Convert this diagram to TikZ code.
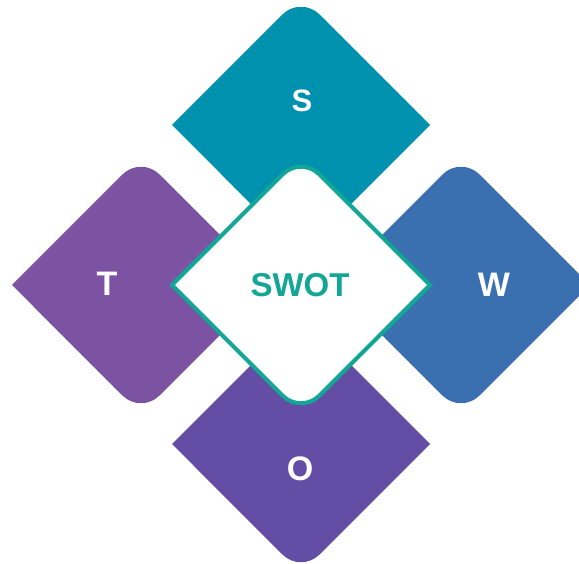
\documentclass[tikz,border=0pt]{standalone}
\usepackage{fontspec}
\setmainfont{Liberation Sans}
\definecolor{cS}{HTML}{0091AF}
\definecolor{cT}{HTML}{7C52A3}
\definecolor{cW}{HTML}{3A70B0}
\definecolor{cO}{HTML}{644EA5}
\definecolor{cTeal}{HTML}{12A696}
\tikzset{
  rdiamond/.pic={
    \path[pic actions] (-129,0) -- (-18.38,110.62)
      arc[start angle=135,end angle=45,radius=26] -- (129,0) -- (18.38,-110.62)
      arc[start angle=-45,end angle=-135,radius=26] -- cycle;
  },
  letter/.style={text=white,font=\bfseries\fontsize{34}{34}\selectfont,inner sep=0pt},
  centerlabel/.style={text=cTeal,font=\bfseries\fontsize{33}{33}\selectfont,inner sep=0pt}
}
\begin{document}
\begin{tikzpicture}[x=1pt,y=1pt]
\useasboundingbox (0,0) rectangle (579,563);
\coordinate (S) at (301,438);
\coordinate (T) at (141,278);
\coordinate (W) at (461,278);
\coordinate (O) at (301,119);
\coordinate (C) at (301,278);
\pic[fill=cS] at (S) {rdiamond};
\pic[fill=cT] at (T) {rdiamond};
\pic[fill=cW] at (W) {rdiamond};
\pic[fill=cO] at (O) {rdiamond};
\pic[fill=white,draw=cTeal,line width=4pt] at (C) {rdiamond};
\node[letter,font=\bfseries\fontsize{31}{31}\selectfont] (lS) at (302,462) {S};
\node[letter] (lT) at (107,279) {T};
\node[letter] (lW) at (494,278) {W};
\node[letter] (lO) at (300,94) {O};
\node[centerlabel] (lC) at (300,278) {SWOT};
\end{tikzpicture}
\end{document}
